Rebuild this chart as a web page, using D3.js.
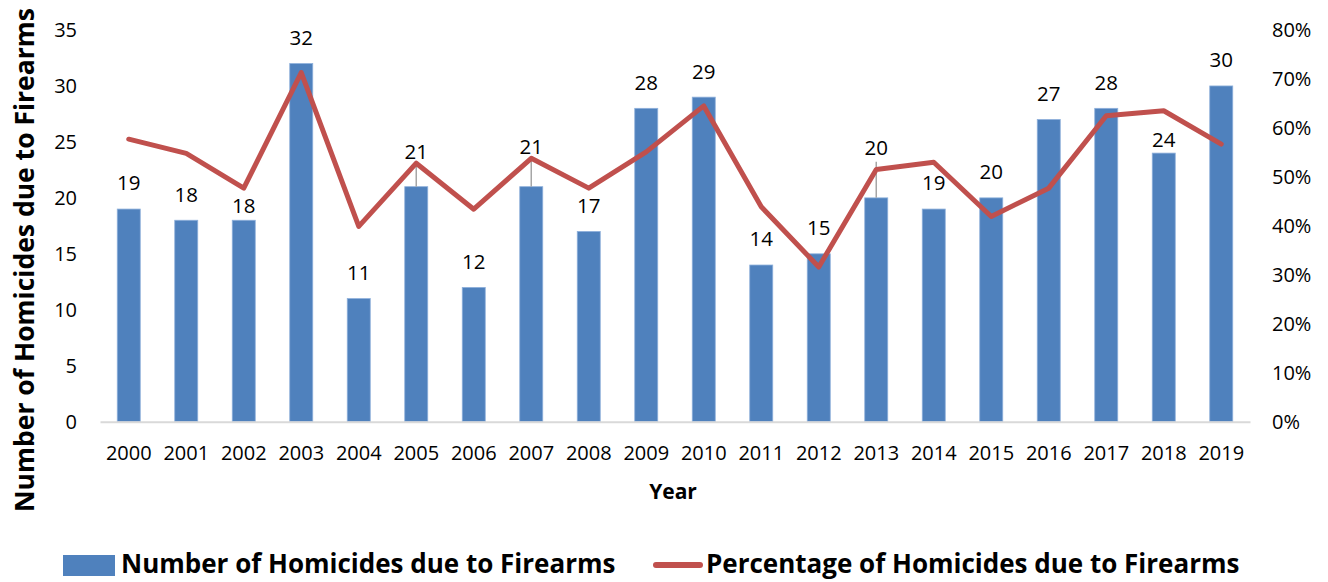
<!DOCTYPE html>
<html>
<head>
<meta charset="utf-8">
<script src="https://cdn.jsdelivr.net/npm/d3@7"></script>
<style>
  body { margin: 0; background: #fff; }
  svg { display: block; font-family: "Open Sans", sans-serif; }
</style>
</head>
<body>
<div id="chart"></div>
<script>
const years = ["2000","2001","2002","2003","2004","2005","2006","2007","2008","2009",
               "2010","2011","2012","2013","2014","2015","2016","2017","2018","2019"];
const homicides = [19, 18, 18, 32, 11, 21, 12, 21, 17, 28, 29, 14, 15, 20, 19, 20, 27, 28, 24, 30];
const percentage = [0.577, 0.548, 0.477, 0.713, 0.399, 0.528, 0.434, 0.538, 0.477, 0.551,
                    0.645, 0.439, 0.316, 0.515, 0.530, 0.419, 0.477, 0.625, 0.635, 0.567];
const leftTicks = [0, 5, 10, 15, 20, 25, 30, 35];
const rightTicks = [0, 0.1, 0.2, 0.3, 0.4, 0.5, 0.6, 0.7, 0.8];

// label nudges in pixels (negative = further up) for labels Excel moved off the line
const labelNudge = { "2002": 11, "2005": -9, "2007": -14, "2013": -24, "2018": 13 };

let width = 1328, height = 582;
const blue = "#4f81bd", red = "#c0504d";

const svg = d3.select("#chart")
  .append("svg")
  .attr("width", width)
  .attr("height", height);

let x = d3.scaleBand()
  .domain(years)
  .range([100, 1250])
  .paddingInner(0.6)
  .paddingOuter(0.3);

let y = d3.scaleLinear().domain([0, 35]).range([421.7, 30]);
let y2 = d3.scaleLinear().domain([0, 0.8]).range([421.7, 30]);

// left axis
svg.append("g")
  .attr("transform", "translate(77,0)")
  .call(d3.axisLeft(y).tickValues(leftTicks).tickSize(0).tickPadding(0))
  .call(g => g.select(".domain").remove())
  .selectAll("text")
  .attr("font-size", 20).attr("font-family", "Open Sans").attr("fill", "#000");

// right axis
svg.append("g")
  .attr("transform", "translate(1272,0)")
  .call(d3.axisRight(y2).tickValues(rightTicks).tickFormat(d3.format(".0%")).tickSize(0).tickPadding(0))
  .call(g => g.select(".domain").remove())
  .selectAll("text")
  .attr("font-size", 20).attr("font-family", "Open Sans").attr("fill", "#000");

// bars
svg.append("g")
  .selectAll("rect")
  .data(years)
  .join("rect")
  .attr("x", d => x(d))
  .attr("y", (d, i) => y(homicides[i]))
  .attr("width", x.bandwidth())
  .attr("height", (d, i) => y(0) - y(homicides[i]))
  .attr("fill", blue)
  .attr("stroke", "#8eb0db")
  .attr("stroke-width", 0.8);

// x axis
const xAxis = svg.append("g")
  .attr("transform", `translate(0,${y(0)})`)
  .call(d3.axisBottom(x).tickSize(0).tickSizeOuter(0).tickPadding(24));
xAxis.select(".domain").attr("stroke", "#d9d9d9").attr("stroke-width", 2);
xAxis.selectAll("text")
  .attr("font-size", 20).attr("font-family", "Open Sans").attr("fill", "#000");

// leader lines for moved labels
const labelY = (d, i) => y(homicides[i]) - 26 + (labelNudge[d] || 0);
svg.append("g")
  .selectAll("line")
  .data(years.filter(d => (labelNudge[d] || 0) < 0))
  .join("line")
  .attr("x1", d => x(d) + x.bandwidth() / 2)
  .attr("x2", d => x(d) + x.bandwidth() / 2)
  .attr("y1", d => labelY(d, years.indexOf(d)) + 14)
  .attr("y2", d => y(homicides[years.indexOf(d)]))
  .attr("stroke", "#a6a6a6")
  .attr("stroke-width", 1.5);

// percentage line
const line = d3.line()
  .x((d, i) => x(years[i]) + x.bandwidth() / 2)
  .y(d => y2(d));

svg.append("path")
  .datum(percentage)
  .attr("fill", "none")
  .attr("stroke", red)
  .attr("stroke-width", 5)
  .attr("stroke-linejoin", "round")
  .attr("stroke-linecap", "round")
  .attr("d", line);

// data labels
svg.append("g")
  .selectAll("text")
  .data(years)
  .join("text")
  .attr("x", d => x(d) + x.bandwidth() / 2)
  .attr("y", labelY)
  .attr("dy", "0.36em")
  .attr("text-anchor", "middle")
  .attr("font-size", 20.5)
  .attr("fill", "#000")
  .text((d, i) => homicides[i]);

// axis titles
svg.append("text")
  .attr("transform", "translate(25,260) rotate(-90)")
  .attr("text-anchor", "middle")
  .attr("dy", "0.35em")
  .attr("font-size", 26.5)
  .attr("font-weight", "bold")
  .text("Number of Homicides due to Firearms");

svg.append("text")
  .attr("x", 673)
  .attr("y", 492)
  .attr("dy", "0.35em")
  .attr("text-anchor", "middle")
  .attr("font-size", 21)
  .attr("font-weight", "bold")
  .text("Year");

// legend
const legend = svg.append("g");
legend.append("rect")
  .attr("x", 63).attr("y", 555).attr("width", 52).attr("height", 21)
  .attr("fill", blue);
legend.append("text")
  .attr("x", 121).attr("y", 564).attr("dy", "0.35em")
  .attr("font-size", 26).attr("font-weight", "bold")
  .text("Number of Homicides due to Firearms");
legend.append("line")
  .attr("x1", 656).attr("x2", 700).attr("y1", 565).attr("y2", 565)
  .attr("stroke", red).attr("stroke-width", 6).attr("stroke-linecap", "round");
legend.append("text")
  .attr("x", 706).attr("y", 564).attr("dy", "0.35em")
  .attr("font-size", 26).attr("font-weight", "bold")
  .text("Percentage of Homicides due to Firearms");
</script>
</body>
</html>
